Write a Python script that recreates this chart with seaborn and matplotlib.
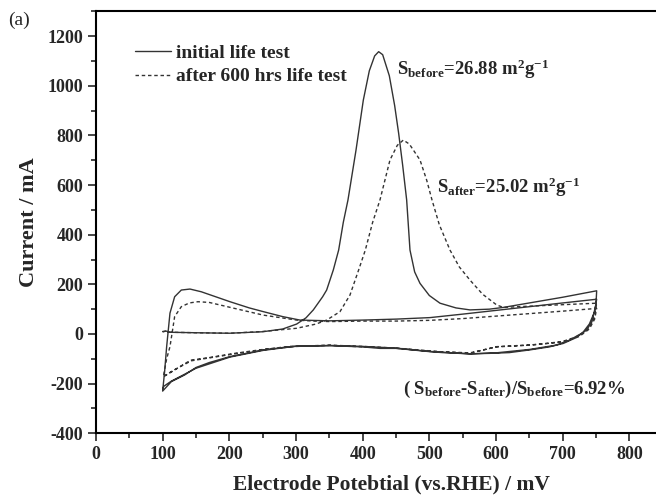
import numpy as np
import pandas as pd
import matplotlib
matplotlib.use("Agg")
import matplotlib.pyplot as plt
from matplotlib.ticker import MultipleLocator
import seaborn as sns

# ---- data, traced in sweep order ----
initial_potential = [100, 105, 110, 150, 200, 250, 280, 301, 315, 326, 340, 346, 356, 364, 371, 378, 390, 401, 410, 418, 424, 430, 440, 448, 454, 460, 466, 471, 478, 486, 500, 516, 540, 561, 590, 611, 650, 700, 751,
                     750, 748, 744, 736, 720, 701, 680, 651, 620, 590, 561, 520, 500, 451, 426, 400, 351, 300, 291, 251, 201, 170, 150, 133, 113, 100,
                     103, 106, 111, 118, 128, 141, 158, 201, 230, 251, 280, 306, 351, 400, 451, 501, 550, 600, 650, 700, 751,
                     748, 740, 730, 710, 690, 651, 600, 561, 500, 451, 400, 351, 300, 251, 201, 150, 133, 113, 102, 100]
initial_current = [10, 12, 7, 5, 3, 9, 20, 40, 65, 97, 150, 177, 258, 338, 450, 540, 740, 942, 1060, 1120, 1137, 1125, 1040, 920, 808, 680, 540, 338, 250, 204, 155, 124, 105, 97, 100, 107, 125, 148, 174,
                   120, 97, 50, 16, -15, -38, -52, -64, -75, -78, -80, -75, -71, -58, -58, -52, -47, -50, -51, -64, -91, -115, -135, -165, -192, -230,
                   -150, -51, 84, 150, 177, 181, 170, 130, 105, 90, 70, 56, 53, 56, 60, 66, 80, 95, 110, 125, 140,
                   90, 40, 5, -25, -45, -62, -76, -80, -70, -57, -50, -46, -49, -66, -93, -138, -162, -190, -210, -220]

after_potential = [100, 105, 112, 150, 201, 250, 301, 330, 346, 366, 381, 394, 404, 415, 426, 441, 452, 461, 470, 486, 496, 504, 515, 531, 545, 561, 580, 601, 611, 650, 700, 751,
                   749, 745, 736, 720, 700, 670, 651, 601, 580, 561, 520, 451, 400, 351, 291, 251, 208, 170, 143, 134, 115, 101,
                   106, 111, 118, 128, 140, 153, 170, 208, 251, 301, 326, 351, 400, 451, 501, 550, 600, 650, 700, 751,
                   748, 740, 725, 700, 651, 601, 561, 501, 451, 351, 300, 251, 208, 143, 115, 101]
after_current = [8, 12, 7, 5, 3, 10, 23, 40, 56, 90, 157, 258, 338, 450, 540, 701, 760, 781, 765, 701, 620, 540, 440, 338, 270, 217, 160, 117, 107, 112, 118, 124,
                 90, 50, 16, -12, -30, -40, -44, -51, -65, -78, -72, -57, -50, -45, -50, -62, -78, -95, -105, -118, -150, -172,
                 -100, -51, 70, 110, 125, 130, 127, 103, 76, 56, 52, 50, 52, 52, 55, 62, 72, 82, 92, 103,
                 60, 20, -10, -32, -45, -52, -76, -70, -58, -46, -50, -63, -80, -108, -148, -172]

series_labels = ["initial life test", "after 600 hrs life test"]

df_initial = pd.DataFrame({"E": initial_potential, "I": initial_current})
df_after = pd.DataFrame({"E": after_potential, "I": after_current})

sns.set_style("ticks")
plt.rcParams["font.family"] = ["Liberation Serif", "DejaVu Serif"]
plt.rcParams["font.weight"] = "bold"
plt.rcParams["axes.unicode_minus"] = False
plt.rcParams["mathtext.fontset"] = "custom"
plt.rcParams["mathtext.rm"] = "Liberation Serif:bold"
plt.rcParams["mathtext.bf"] = "Liberation Serif:bold"
plt.rcParams["mathtext.it"] = "Liberation Serif:bold"
plt.rcParams["mathtext.default"] = "bf"

fig = plt.figure(figsize=(6.56, 4.96), dpi=100)
ax = fig.add_axes([0.1463, 0.1264, 0.8537, 0.851])

sns.lineplot(data=df_initial, x="E", y="I", sort=False, estimator=None, ax=ax,
             color="#333333", linewidth=1.0, label=series_labels[0])
sns.lineplot(data=df_after, x="E", y="I", sort=False, estimator=None, ax=ax,
             color="#333333", linewidth=1.0, linestyle=(0, (2.5, 2)), label=series_labels[1])

ax.set_xlim(0, 840)
ax.set_ylim(-400, 1300)
ax.xaxis.set_major_locator(MultipleLocator(100))
ax.xaxis.set_minor_locator(MultipleLocator(50))
ax.yaxis.set_major_locator(MultipleLocator(200))
ax.yaxis.set_minor_locator(MultipleLocator(100))
ax.tick_params(axis="both", which="major", direction="out", length=6, width=1.2, labelsize=13, pad=3)
ax.tick_params(axis="both", which="minor", direction="out", length=3.5, width=1.2)
ax.tick_params(top=False, right=False)
for lab in ax.get_xticklabels() + ax.get_yticklabels():
    lab.set_fontweight("bold")
for s in ["left", "bottom", "top"]:
    ax.spines[s].set_linewidth(1.5)
    ax.spines[s].set_color("black")
ax.spines["right"].set_visible(False)

ax.set_xlabel("Electrode Potebtial (vs.RHE) / mV", fontsize=15.5, fontweight="bold")
ax.xaxis.set_label_coords(0.527, -0.097)
ax.set_ylabel("Current / mA", fontsize=16, fontweight="bold", labelpad=6)

leg = ax.legend(loc="upper left", bbox_to_anchor=(0.055, 0.94), frameon=False,
                prop={"size": 14, "weight": "bold"}, handlelength=1.9, handletextpad=0.25,
                labelspacing=0.3, borderaxespad=0)

ax.text(451, 1066, r"S$_{before}$=26.88 m$^{2}$g$^{-1}$",
        fontsize=13.5, fontweight="bold", va="center", ha="left")
ax.text(511, 590, r"S$_{after}$=25.02 m$^{2}$g$^{-1}$",
        fontsize=13.5, fontweight="bold", va="center", ha="left")
ax.text(460, -225, r"( S$_{before}$-S$_{after}$)/S$_{before}$=6.92%",
        fontsize=13.5, fontweight="bold", va="center", ha="left")

fig.text(8 / 656, 1 - 20 / 496, "(a)", fontsize=14, fontweight="normal", va="center", ha="left")

fig.savefig("out.png", dpi=100)
